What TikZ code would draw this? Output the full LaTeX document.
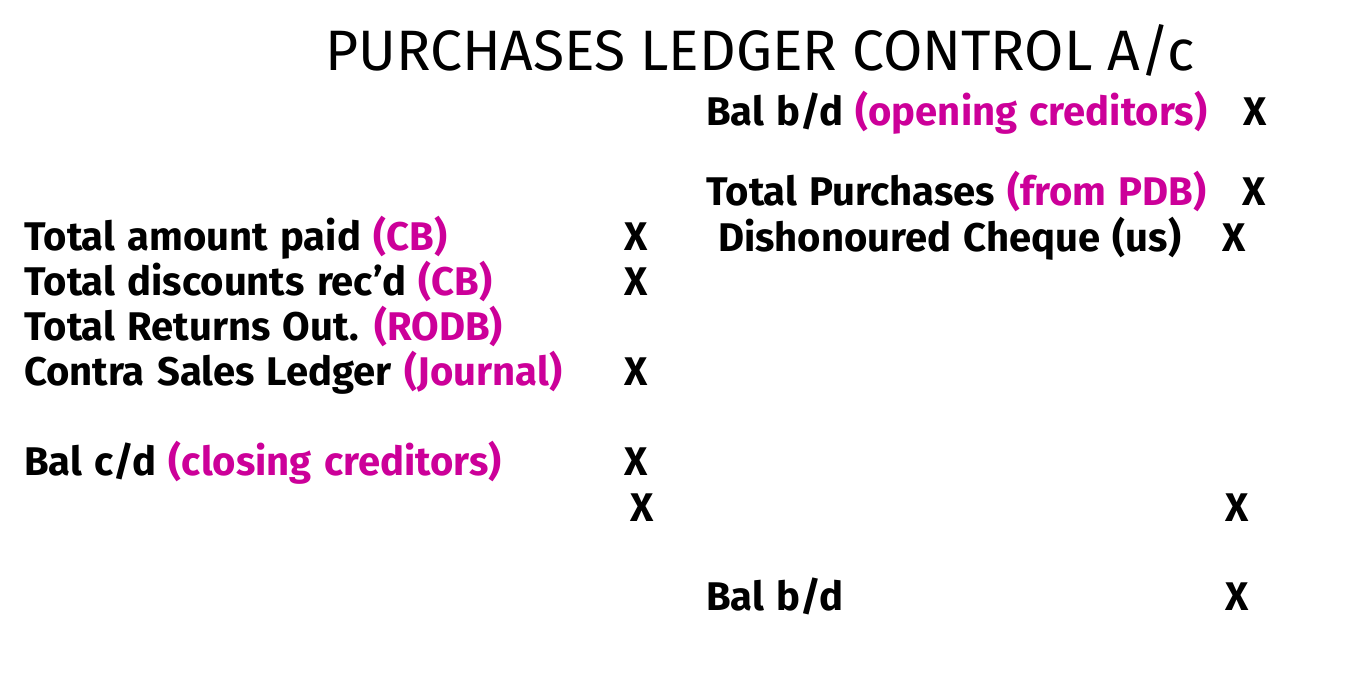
\documentclass[tikz,border=0pt]{standalone}
\usepackage{fontspec}
\setmainfont{Fira Sans}
\newfontfamily\bodyfont{Fira Sans}[WordSpace=1.3]
\definecolor{mag}{HTML}{CC0099}
\begin{document}
\begin{tikzpicture}[x=1pt,y=-1pt,
  txt/.style={anchor=base west,inner sep=0pt,font=\bodyfont\fontsize{40}{44}\selectfont\bfseries},
  ttl/.style={anchor=base west,inner sep=0pt,font=\fontsize{57}{62}\selectfont}]
\useasboundingbox[fill=white] (0,0) rectangle (1367,675);
\node[ttl] (title) at (325,70) {PURCHASES LEDGER CONTROL A/c};
% right side
\node[txt] (r1) at (706,125) {Bal b/d \textcolor{mag}{(opening creditors)}};
\node[txt] (r1x) at (1243,125) {X};
\node[txt] (r2) at (706,205) {Total Purchases \textcolor{mag}{(from PDB)}};
\node[txt] (r2x) at (1242,205) {X};
\node[txt] (r3) at (718,251) {Dishonoured Cheque (us)};
\node[txt] (r3x) at (1222,251) {X};
\node[txt] (rtx) at (1225,521) {X};
\node[txt] (r4) at (706,610) {Bal b/d};
\node[txt] (r4x) at (1225,610) {X};
% left side
\node[txt] (l1) at (24,250) {Total amount paid \textcolor{mag}{(CB)}};
\node[txt] (l1x) at (624,250) {X};
\node[txt] (l2) at (24,295) {Total discounts rec’d \textcolor{mag}{(CB)}};
\node[txt] (l2x) at (624,295) {X};
\node[txt] (l3) at (24,340) {Total Returns Out. \textcolor{mag}{(RODB)}};
\node[txt] (l4) at (24,385) {Contra Sales Ledger \textcolor{mag}{(Journal)}};
\node[txt] (l4x) at (624,385) {X};
\node[txt] (l5) at (24,475) {Bal c/d \textcolor{mag}{(closing creditors)}};
\node[txt] (l5x) at (624,475) {X};
\node[txt] (ltx) at (630,521) {X};
\end{tikzpicture}
\end{document}
